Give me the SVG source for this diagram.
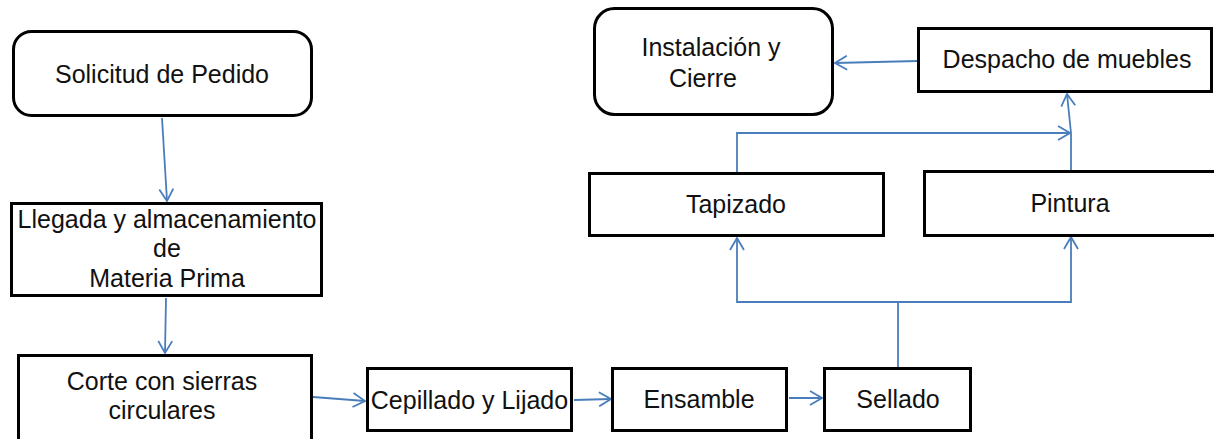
<svg xmlns="http://www.w3.org/2000/svg" width="1214" height="439" viewBox="0 0 1214 439">
<style>
.box{fill:#fff;stroke:#000;stroke-width:3}
.t{font-family:"Liberation Sans",Arial,sans-serif;font-size:25px;fill:#111;text-anchor:middle}
.c{fill:none;stroke:#4A7EBB;stroke-width:1.8;marker-end:url(#arr)}
</style>
<defs>
<marker id="arr" viewBox="0 0 14 16" refX="13" refY="8" markerWidth="14" markerHeight="16" markerUnits="userSpaceOnUse" orient="auto">
<path d="M1,1 L13,8 L1,15" fill="none" stroke="#4A7EBB" stroke-width="1.8"/>
</marker>
</defs>
<rect width="1214" height="439" fill="#fff"/>
<g id="connectors">
<path class="c" d="M162,118 L167,201"/>
<path class="c" d="M166,298 L165,353"/>
<path class="c" d="M313,397 L365,401"/>
<path class="c" d="M574,400 L611,399"/>
<path class="c" d="M789,398 L822,398"/>
<path class="c" d="M898,367 V302 H737 V238"/>
<path class="c" d="M898,302 H1071 V237"/>
<path class="c" d="M737,172 V133 H1070"/>
<path class="c" d="M1071,170 V133 L1067,94"/>
<path class="c" d="M917,61 L835,63"/>
</g>
<g id="solicitud">
<rect class="box" x="13.5" y="31.5" width="298" height="84" rx="18"/>
<text class="t" x="162" y="83">Solicitud de Pedido</text>
</g>
<g id="llegada">
<rect class="box" x="11.5" y="203.5" width="310" height="92"/>
<text class="t" x="167" y="228">Llegada y almacenamiento</text>
<text class="t" x="167" y="257">de</text>
<text class="t" x="167" y="287">Materia Prima</text>
</g>
<g id="corte">
<rect class="box" x="18.5" y="355.5" width="293" height="95"/>
<text class="t" x="162" y="390">Corte con sierras</text>
<text class="t" x="162" y="419">circulares</text>
</g>
<g id="cepillado">
<rect class="box" x="367.5" y="368.5" width="204" height="62"/>
<text class="t" x="469.5" y="409">Cepillado y Lijado</text>
</g>
<g id="ensamble">
<rect class="box" x="612.5" y="368.5" width="174" height="62"/>
<text class="t" x="699" y="408">Ensamble</text>
</g>
<g id="sellado">
<rect class="box" x="824.5" y="368.5" width="146" height="62"/>
<text class="t" x="898" y="408">Sellado</text>
</g>
<g id="tapizado">
<rect class="box" x="589.5" y="173.5" width="294" height="62"/>
<text class="t" x="736" y="213">Tapizado</text>
</g>
<g id="pintura">
<rect class="box" x="924.5" y="171.5" width="300" height="64"/>
<text class="t" x="1070" y="212">Pintura</text>
</g>
<g id="despacho">
<rect class="box" x="918.5" y="28.5" width="293" height="63"/>
<text class="t" x="1067" y="68">Despacho de muebles</text>
</g>
<g id="instalacion">
<rect class="box" x="594.5" y="8.5" width="238" height="106" rx="20"/>
<text class="t" x="711" y="56">Instalación y</text>
<text class="t" x="703" y="87">Cierre</text>
</g>
</svg>
